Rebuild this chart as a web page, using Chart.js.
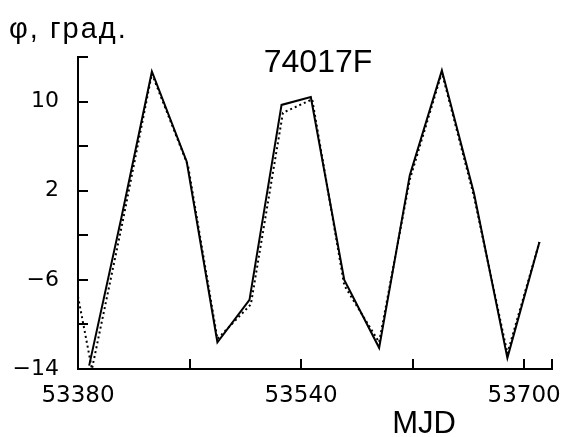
<!DOCTYPE html>
<html>
<head>
<meta charset="utf-8">
<script src="https://cdn.jsdelivr.net/npm/chart.js@4/dist/chart.umd.min.js"></script>
<style>
  html, body { margin: 0; padding: 0; background: #fff; }
  #wrap { width: 565px; height: 437px; position: relative; }
</style>
</head>
<body>
<div id="wrap"><canvas id="c"></canvas></div>
<script>
// ---- data ----
const titleText = "74017F";
const yAxisTitle = "φ, град.";
const xAxisTitle = "MJD";

const solidMJD   = [53388, 53411, 53433, 53458, 53480, 53503, 53526, 53547, 53571, 53596, 53618, 53641, 53664, 53688, 53711];
const solidPhi   = [-13.7, -0.5, 12.7, 4.6, -11.6, -7.8, 9.7, 10.4, -6.0, -12.1, 3.4, 12.8, 1.8, -13.0, -2.6];

const dottedMJD  = [53380, 53390, 53412, 53433, 53459, 53480, 53504, 53527, 53548, 53571, 53596, 53618, 53641, 53664, 53688, 53711];
const dottedPhi  = [-7.5, -14.0, -0.8, 12.5, 4.2, -11.3, -8.2, 9.0, 10.2, -6.5, -11.6, 3.0, 12.6, 1.5, -12.6, -2.6];

const xTicks       = [53380, 53460, 53540, 53620, 53700, 53720];
const xTickLabels  = [53380, 53540, 53700];
const yTicks       = [-14, -10, -6, -2, 2, 6, 10, 14];
const yTickLabels  = [-14, -6, 2, 10];

const toXY = (xs, ys) => xs.map((x, i) => ({ x: x, y: ys[i] }));
const fmt = v => String(v).replace('-', '\u2212');

const inwardTicks = {
  id: 'inwardTicks',
  afterDraw(chart) {
    const ctx = chart.ctx, a = chart.chartArea;
    const xs = chart.scales.x, ys = chart.scales.y;
    ctx.save();
    ctx.strokeStyle = '#000';
    ctx.lineWidth = 2;
    ctx.beginPath();
    xs.ticks.forEach(t => {
      const px = Math.round(xs.getPixelForValue(t.value));
      ctx.moveTo(px, a.bottom);
      ctx.lineTo(px, a.bottom - 10);
    });
    ys.ticks.forEach(t => {
      const py = Math.round(ys.getPixelForValue(t.value));
      ctx.moveTo(a.left, py);
      ctx.lineTo(a.left + 10, py);
    });
    ctx.stroke();
    // texts
    ctx.fillStyle = '#000';
    ctx.textBaseline = 'alphabetic';
    ctx.font = '29px "Liberation Sans", Arial, sans-serif';
    ctx.textAlign = 'left';
    ctx.letterSpacing = '2px';
    ctx.fillText(yAxisTitle, 9, 38);
    ctx.letterSpacing = '0px';
    ctx.font = '32px "Liberation Sans", Arial, sans-serif';
    ctx.textAlign = 'center';
    ctx.fillText(titleText, 318, 72);
    ctx.font = '31px "Liberation Sans", Arial, sans-serif';
    ctx.fillText(xAxisTitle, 424, 433);
    ctx.restore();
  }
};

new Chart(document.getElementById('c'), {
  type: 'line',
  data: {
    datasets: [
      {
        data: toXY(dottedMJD, dottedPhi),
        borderColor: '#000',
        borderWidth: 2,
        borderDash: [2, 3],
        pointRadius: 0,
        tension: 0,
        fill: false
      },
      {
        data: toXY(solidMJD, solidPhi),
        borderColor: '#000',
        borderWidth: 2,
        pointRadius: 0,
        tension: 0,
        fill: false
      }
    ]
  },
  options: {
    responsive: true,
    maintainAspectRatio: false,
    animation: false,
    layout: { padding: { top: 57, right: 4, left: 0, bottom: 0 } },
    plugins: { legend: { display: false }, tooltip: { enabled: false }, title: { display: false } },
    scales: {
      x: {
        type: 'linear',
        min: 53380, max: 53720,
        afterBuildTicks: s => { s.ticks = xTicks.map(v => ({ value: v })); },
        afterFit: s => { s.height = 68; },
        border: { display: true, color: '#000', width: 2 },
        grid: { display: false, drawOnChartArea: false, drawTicks: false },
        ticks: {
          autoSkip: false, maxRotation: 0, padding: 13,
          color: '#000',
          font: { family: '"DejaVu Sans", sans-serif', size: 23 },
          callback: v => xTickLabels.includes(v) ? String(v) : ''
        }
      },
      y: {
        type: 'linear',
        min: -14, max: 14,
        afterBuildTicks: s => { s.ticks = yTicks.map(v => ({ value: v })); },
        afterFit: s => { s.width = 78; },
        border: { display: true, color: '#000', width: 2 },
        grid: { display: false, drawOnChartArea: false, drawTicks: false },
        ticks: {
          autoSkip: false, padding: 19,
          color: '#000',
          font: { family: '"DejaVu Sans", sans-serif', size: 22 },
          callback: v => yTickLabels.includes(v) ? fmt(v) : ''
        }
      }
    }
  },
  plugins: [inwardTicks]
});
</script>
</body>
</html>
